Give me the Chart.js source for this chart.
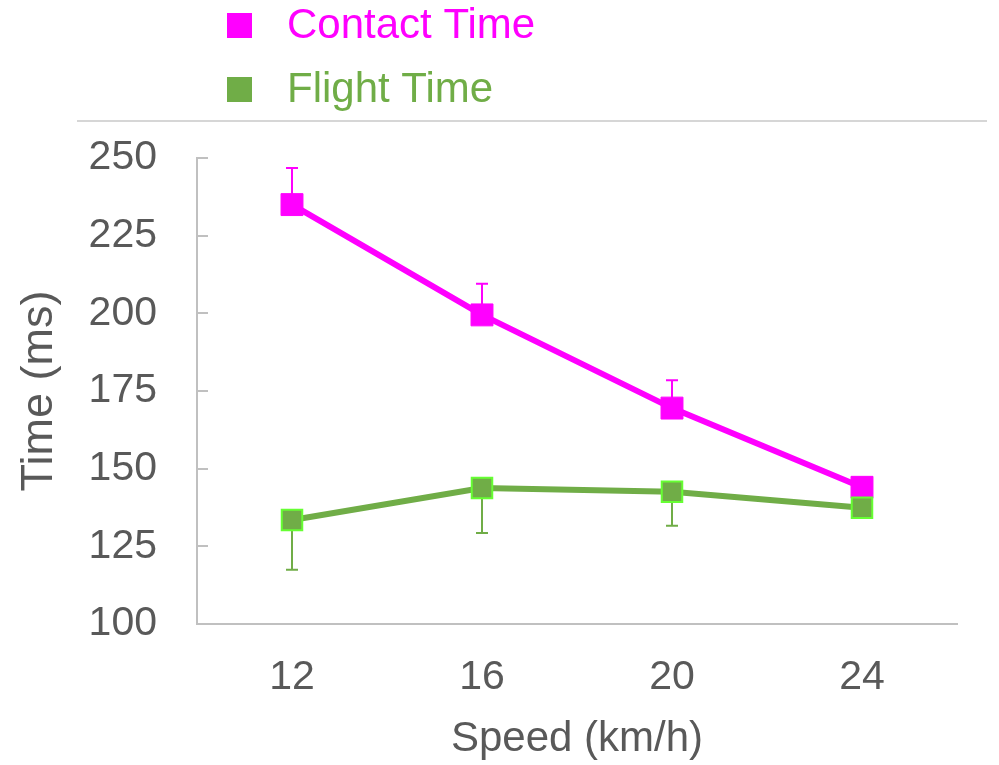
<!DOCTYPE html>
<html>
<head>
<meta charset="utf-8">
<script src="https://cdn.jsdelivr.net/npm/chart.js@4/dist/chart.umd.min.js"></script>
<style>
html,body{margin:0;padding:0;background:#fff;}
</style>
</head>
<body>
<canvas id="grafico" width="999" height="765"></canvas>
<script>
// data
const speeds = ["12", "16", "20", "24"];
const contactTime = [235, 199.5, 169.5, 144];
const contactSD = [11.8, 10, 9, 3];
const flightTime = [133.5, 143.8, 142.6, 137.4];
const flightSD = [16, 14.5, 11, 3];
const yMin = 100, yMax = 250, yStep = 25;

const PINK = "#FF00FF";
const GREEN = "#70AD47";
const TEXT = "#595959";
const AXIS = "#C0C0C0";
const FONT = "'Liberation Sans', Arial, sans-serif";

// error bars: contact goes up, flight goes down
const errorBars = {
  id: "errorBars",
  beforeDatasetsDraw(chart){
    const ctx = chart.ctx;
    const y = chart.scales.y;
    chart.data.datasets.forEach((ds, i) => {
      const meta = chart.getDatasetMeta(i);
      ctx.save();
      ctx.strokeStyle = ds.errColor;
      ctx.lineWidth = 2;
      meta.data.forEach((pt, j) => {
        const y1 = y.getPixelForValue(ds.data[j] + ds.sd[j] * ds.errDir);
        ctx.beginPath();
        ctx.moveTo(pt.x, pt.y);
        ctx.lineTo(pt.x, y1);
        ctx.moveTo(pt.x - 6, y1);
        ctx.lineTo(pt.x + 6, y1);
        ctx.stroke();
      });
      ctx.restore();
    });
  }
};

// inner y ticks, top rule and the stacked legend
const decor = {
  id: "decor",
  beforeDatasetsDraw(chart){
    const ctx = chart.ctx;
    const y = chart.scales.y;
    const left = chart.chartArea.left;
    ctx.save();
    ctx.strokeStyle = AXIS;
    ctx.lineWidth = 2;
    y.ticks.forEach(t => {
      const py = Math.round(y.getPixelForValue(t.value));
      ctx.beginPath();
      ctx.moveTo(left, py);
      ctx.lineTo(left + 11, py);
      ctx.stroke();
    });
    ctx.restore();
  },
  afterDraw(chart){
    const ctx = chart.ctx;
    ctx.save();
    ctx.strokeStyle = "#C8C8C8";
    ctx.lineWidth = 1.5;
    ctx.beginPath();
    ctx.moveTo(77, 121);
    ctx.lineTo(987, 121);
    ctx.stroke();

    ctx.font = "42px " + FONT;
    ctx.textBaseline = "middle";
    ctx.textAlign = "left";
    const items = [
      {label: chart.data.datasets[0].label, color: PINK, y: 25},
      {label: chart.data.datasets[1].label, color: GREEN, y: 89}
    ];
    items.forEach(it => {
      ctx.fillStyle = it.color;
      ctx.fillRect(227, it.y - 12, 25, 25);
      ctx.fillText(it.label, 287, it.y + 1);
    });
    ctx.restore();
  }
};

new Chart(document.getElementById("grafico"), {
  type: "line",
  data: {
    labels: speeds,
    datasets: [
      {
        label: "Contact Time",
        data: contactTime,
        sd: contactSD,
        errDir: 1,
        errColor: PINK,
        borderColor: PINK,
        backgroundColor: PINK,
        borderWidth: 6,
        pointStyle: "rect",
        pointRadius: 15.5,
        pointBorderWidth: 1,
        pointBorderColor: PINK,
        pointBackgroundColor: PINK,
        tension: 0,
        order: 1
      },
      {
        label: "Flight Time",
        data: flightTime,
        sd: flightSD,
        errDir: -1,
        errColor: GREEN,
        borderColor: GREEN,
        backgroundColor: GREEN,
        borderWidth: 6,
        pointStyle: "rect",
        pointRadius: 14.5,
        pointBorderWidth: 2,
        pointBorderColor: "#66FF33",
        pointBackgroundColor: GREEN,
        tension: 0,
        order: 0
      }
    ]
  },
  options: {
    responsive: false,
    animation: false,
    layout: {padding: {top: 158, left: 0, right: 42, bottom: 0}},
    plugins: {legend: {display: false}, tooltip: {enabled: false}},
    scales: {
      x: {
        offset: true,
        grid: {drawOnChartArea: false, drawTicks: false},
        border: {display: true, color: AXIS, width: 2},
        ticks: {color: TEXT, font: {family: FONT, size: 41}, padding: 29},
        title: {display: true, text: "Speed (km/h)", color: TEXT, font: {family: FONT, size: 42}, padding: {top: 0, bottom: 0}},
        afterFit(s){ s.height = 141; }
      },
      y: {
        min: yMin,
        max: yMax,
        grid: {drawOnChartArea: false, drawTicks: false},
        border: {display: true, color: AXIS, width: 2},
        ticks: {stepSize: yStep, color: TEXT, font: {family: FONT, size: 41}, padding: 40},
        title: {display: true, text: "Time (ms)", color: TEXT, font: {family: FONT, size: 45}, padding: {top: 13, bottom: 0}},
        afterFit(s){ s.width = 197; }
      }
    }
  },
  plugins: [decor, errorBars]
});
</script>
</body>
</html>
